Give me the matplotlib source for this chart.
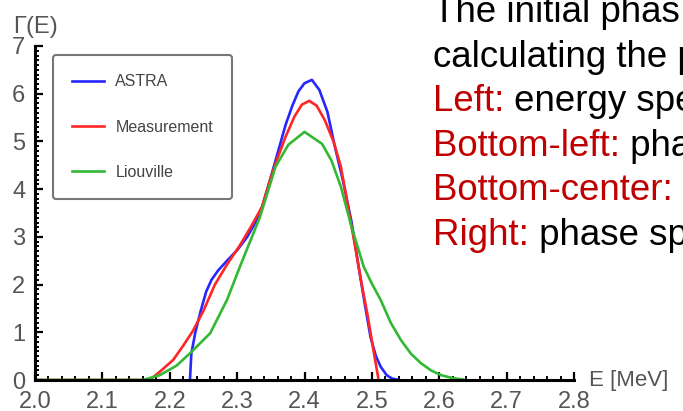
import matplotlib.pyplot as plt
import matplotlib.ticker as ticker

# --- data ---
astra_e = [2.230, 2.232, 2.238, 2.246, 2.254, 2.262, 2.272, 2.285, 2.300, 2.315,
           2.327, 2.337, 2.349, 2.360, 2.372, 2.382, 2.391, 2.400, 2.411, 2.422,
           2.434, 2.444, 2.458, 2.470, 2.480, 2.490, 2.498, 2.506, 2.513, 2.522,
           2.530, 2.540]
astra_g = [0.00, 0.55, 1.00, 1.45, 1.85, 2.10, 2.30, 2.50, 2.72, 3.00,
           3.30, 3.63, 4.20, 4.75, 5.35, 5.75, 6.05, 6.22, 6.29, 6.08,
           5.62, 4.96, 4.12, 3.30, 2.40, 1.55, 0.90, 0.50, 0.28, 0.10,
           0.03, 0.00]

meas_e = [2.000, 2.170, 2.185, 2.205, 2.220, 2.234, 2.250, 2.267, 2.285, 2.304,
          2.320, 2.337, 2.349, 2.360, 2.372, 2.385, 2.396, 2.407, 2.418, 2.430,
          2.443, 2.454, 2.465, 2.476, 2.485, 2.494, 2.502, 2.510]
meas_g = [0.00, 0.00, 0.17, 0.42, 0.72, 1.02, 1.45, 2.00, 2.42, 2.82,
          3.20, 3.63, 4.20, 4.65, 5.10, 5.52, 5.77, 5.85, 5.75, 5.45,
          5.00, 4.47, 3.60, 2.73, 2.00, 1.33, 0.65, 0.00]

liou_e = [2.000, 2.160, 2.185, 2.210, 2.230, 2.260, 2.285, 2.304, 2.316, 2.334,
          2.357, 2.376, 2.400, 2.426, 2.440, 2.454, 2.470, 2.488, 2.500, 2.513,
          2.528, 2.543, 2.558, 2.573, 2.588, 2.603, 2.620, 2.640]
liou_g = [0.00, 0.00, 0.10, 0.30, 0.56, 0.98, 1.68, 2.37, 2.79, 3.42,
          4.47, 4.93, 5.20, 4.95, 4.60, 4.05, 3.20, 2.37, 2.02, 1.68,
          1.20, 0.84, 0.55, 0.35, 0.20, 0.10, 0.04, 0.00]

# slide text, as far as it is visible in the picture
text_lines = [("", "The initial phas"),
              ("", "calculating the p"),
              ("Left:", " energy spe"),
              ("Bottom-left:", " pha"),
              ("Bottom-center:", ""),
              ("Right:", " phase sp")]

W, H = 683, 411
plt.rcParams['font.family'] = ['Liberation Sans', 'DejaVu Sans']

fig = plt.figure(figsize=(W / 100, H / 100), dpi=100)
# axes placed in pixels: x 2.0->35px, 2.8->574px ; y 0->380px, 7->46px
ax = fig.add_axes([35 / W, 1 - 380 / H, (574 - 35) / W, (380 - 46) / H])

ax.plot(astra_e, astra_g, color='#2626ff', lw=1.9, label='ASTRA')
ax.plot(meas_e, meas_g, color='#ff2626', lw=1.9, label='Measurement')
ax.plot(liou_e, liou_g, color='#33b833', lw=1.9, label='Liouville')

ax.set_xlim(2.0, 2.8)
ax.set_ylim(0, 7)
for s in ['top', 'right']:
    ax.spines[s].set_visible(False)
for s in ['left', 'bottom']:
    ax.spines[s].set_linewidth(2.2)
    ax.spines[s].set_color('black')

ax.xaxis.set_major_locator(ticker.MultipleLocator(0.1))
ax.xaxis.set_minor_locator(ticker.MultipleLocator(0.02))
ax.yaxis.set_major_locator(ticker.MultipleLocator(1))
ax.yaxis.set_minor_locator(ticker.MultipleLocator(0.1))
ax.xaxis.set_major_formatter(ticker.FormatStrFormatter('%.1f'))
ax.tick_params(which='major', direction='in', length=6, width=1.6,
               labelsize=17, labelcolor='#555555')
ax.tick_params(which='minor', direction='in', length=3, width=1.4)
ax.tick_params(axis='x', which='major', pad=8)
ax.tick_params(axis='y', which='major', pad=7)

leg = ax.legend(loc='upper left', bbox_to_anchor=(53 / W, 1 - 55 / H),
                bbox_transform=fig.transFigure, fontsize=11.5,
                labelcolor='#444444', handlelength=2.0, handletextpad=0.7,
                labelspacing=1.9, borderpad=1.2, borderaxespad=0,
                fancybox=True, framealpha=1, edgecolor='#777777')
leg.get_frame().set_linewidth(1.5)

fig.text(13 / W, 1 - 33 / H, 'Γ(E)', fontsize=17, color='#555555',
         va='baseline', ha='left')
fig.text(589 / W, 1 - 380 / H, 'E [MeV]', fontsize=16, color='#555555',
         va='center', ha='left')

# the slide text on the right
y0 = 22
for i, (red, black) in enumerate(text_lines):
    yb = 1 - (y0 + 44.6 * i) / H
    t = fig.text(433 / W, yb, red if red else black, fontsize=26.4,
                 color='#c00000' if red else 'black', va='baseline', ha='left')
    if red and black:
        ax.annotate(black, xy=(1, 0), xycoords=t, va='bottom', ha='left',
                    fontsize=26.4, color='black', annotation_clip=False)

fig.savefig('out.png', dpi=100)
